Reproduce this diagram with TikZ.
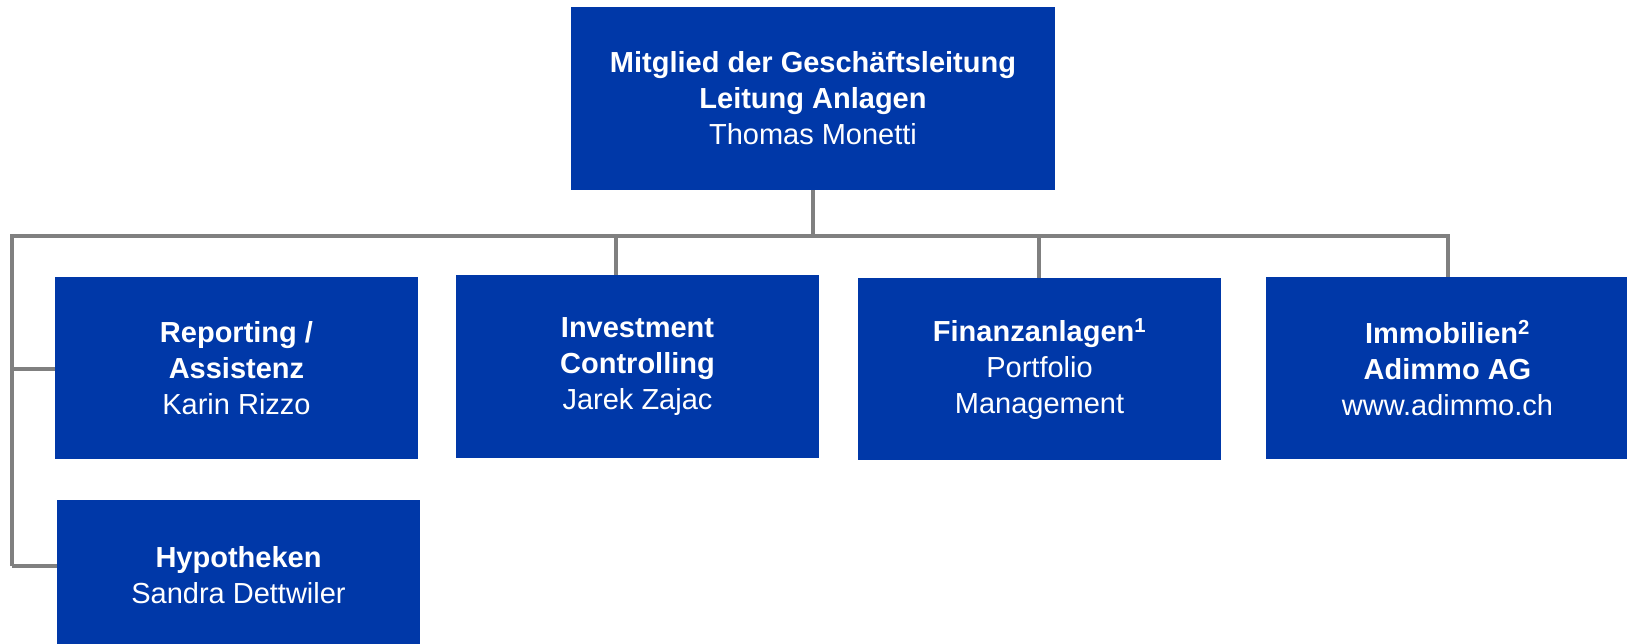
\documentclass[tikz,border=0pt]{standalone}
\usepackage{fontspec}
\setmainfont{Liberation Sans}
\definecolor{boxblue}{HTML}{0038A8}
\definecolor{linegray}{HTML}{808080}
\tikzset{
  orgbox/.style={fill=boxblue, draw=none, text=white, align=center, inner sep=0pt,
    font=\fontsize{29}{36}\selectfont, minimum height=182pt, minimum width=363pt},
  link/.style={draw=linegray, line width=3.2pt},
}
\begin{document}
\begin{tikzpicture}[x=1pt,y=-1pt]
\clip (0,0) rectangle (1627,644);
\useasboundingbox (0,0) rectangle (1627,644);
\fill[white] (0,0) rectangle (1627,644);

\node[orgbox, minimum width=484pt, minimum height=183pt] (top) at (813,98.5)
  {\textbf{Mitglied der Geschäftsleitung}\\\textbf{Leitung Anlagen}\\Thomas Monetti};
\node[orgbox] (rep) at (236.5,368) {\textbf{Reporting /}\\\textbf{Assistenz}\\Karin Rizzo};
\node[orgbox, minimum height=150pt] (hyp) at (238.5,575) {\textbf{Hypotheken}\\Sandra Dettwiler};
\node[orgbox, minimum height=183pt] (inv) at (637.5,366.5) {\textbf{Investment}\\\textbf{Controlling}\\Jarek Zajac};
\node[orgbox] (fin) at (1039.5,369) {\textbf{Finanzanlagen\textsuperscript{1}}\\Portfolio\\Management};
\node[orgbox] (imm) at (1447.5,368) {\textbf{Immobilien\textsuperscript{2}}\\\textbf{Adimmo AG}\\www.adimmo.ch};

\coordinate (bustop) at (813,236);
\coordinate (busL) at (12,236);
\coordinate (busR) at (1448,236);
\coordinate (busInv) at (616,236);
\coordinate (busFin) at (1039,236);
\coordinate (repJ) at (12,369);
\coordinate (hypJ) at (12,566);

\draw[link] (top.south) -- (bustop);
\draw[link] (hypJ) -- (busL) -- (busR) -- (busR |- imm.north);
\draw[link] (busInv) -- (busInv |- inv.north);
\draw[link] (busFin) -- (busFin |- fin.north);
\draw[link] (repJ) -- (repJ -| rep.west);
\draw[link] (hypJ) -- (hypJ -| hyp.west);
\end{tikzpicture}
\end{document}
